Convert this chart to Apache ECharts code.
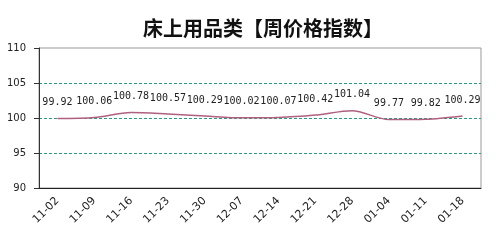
<!DOCTYPE html>
<html><head><meta charset="utf-8">
<script src="https://cdn.jsdelivr.net/npm/echarts@6/dist/echarts.min.js"></script>
<style>html,body{margin:0;padding:0;background:#fff}#c{width:500px;height:245px}</style>
</head><body><div id="c"></div>
<script>
var categories = ['11-02','11-09','11-16','11-23','11-30','12-07','12-14','12-21','12-28','01-04','01-11','01-18'];
var values = [99.92,100.06,100.78,100.57,100.29,100.02,100.07,100.42,101.04,99.77,99.82,100.29];
var yTicks = [90,95,100,105,110];
var chart = echarts.init(document.getElementById('c'));
chart.setOption({
  animation:false,
  title:{text:'床上用品类【周价格指数】',left:138,top:13,textStyle:{fontSize:20,fontWeight:'bold',color:'#111',fontFamily:'Noto Sans CJK SC'}},
  grid:{left:39,right:19,top:48,bottom:57,show:true,borderColor:'#999',borderWidth:1},
  xAxis:{type:'category',data:categories,boundaryGap:true,
    axisLine:{lineStyle:{color:'#222',width:1}},axisTick:{show:false},
    axisLabel:{rotate:45,fontSize:11,color:'#222',margin:11,fontFamily:'DejaVu Sans',interval:0}},
  yAxis:{type:'value',min:yTicks[0],max:yTicks[yTicks.length-1],interval:5,
    axisLine:{show:true,lineStyle:{color:'#333'}},axisTick:{show:true,length:5,lineStyle:{color:'#333'}},
    axisLabel:{fontSize:10,color:'#222',margin:13,fontFamily:'DejaVu Sans'},
    splitLine:{show:true,showMinLine:false,showMaxLine:false,lineStyle:{type:[3,2],color:'#2a9a86'}}},
  series:[{type:'line',data:values,smooth:0.3,showSymbol:true,symbol:'circle',symbolSize:0,
    itemStyle:{color:'#b0607f'},
    lineStyle:{color:'#b0607f',width:1.5},
    label:{show:true,position:'top',distance:11,fontSize:10,color:'#222',fontFamily:'DejaVu Sans Mono',
      formatter:function(p){return p.value.toFixed(2);}}}]
});
</script></body></html>
